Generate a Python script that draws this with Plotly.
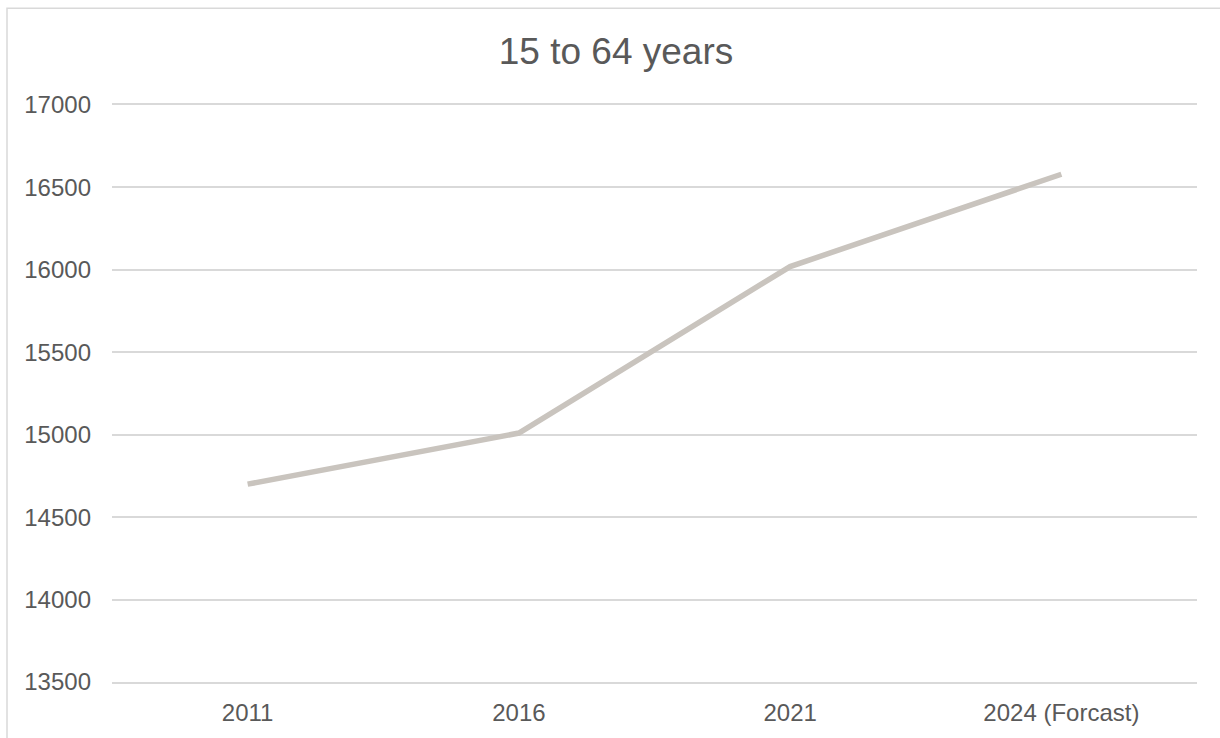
import plotly.graph_objects as go

categories = ["2011", "2016", "2021", "2024 (Forcast)"]
values = [14700, 15010, 16020, 16580]
y_ticks = [13500, 14000, 14500, 15000, 15500, 16000, 16500, 17000]
title_text = "15 to 64 years"

W, H = 1220, 738
L, R, T, B = 112, 23, 105, 54
pw, ph = W - L - R, H - T - B

fig = go.Figure()
fig.add_trace(go.Scatter(
    x=categories, y=values, mode="lines",
    line=dict(color="#C9C4BE", width=5.5),
    hoverinfo="skip", showlegend=False,
))

font_fam = "Liberation Sans, Arial, sans-serif"
fig.update_layout(
    width=W, height=H,
    margin=dict(l=L, r=R, t=T, b=B),
    paper_bgcolor="white", plot_bgcolor="white",
    title=dict(text=title_text, x=616 / W, xanchor="center",
               y=1 - 51 / H, yanchor="middle", yref="container",
               font=dict(family=font_fam, size=37, color="#595959")),
    xaxis=dict(type="category", range=[-0.5, 3.5], showgrid=False,
               zeroline=False, showline=True, mirror=True,
               linecolor="#D9D9D9", linewidth=1.5, ticks="",
               tickfont=dict(family=font_fam, size=24, color="#595959"),
               ticklabelstandoff=8),
    yaxis=dict(range=[13500, 17000], tickvals=y_ticks,
               ticktext=[str(v) for v in y_ticks],
               showgrid=True, gridcolor="#D9D9D9", gridwidth=1.5,
               zeroline=False, showline=False, ticks="",
               tickfont=dict(family=font_fam, size=24, color="#595959"),
               ticklabelstandoff=20),
    shapes=[dict(type="rect", xref="paper", yref="paper",
                 x0=(7 - L) / pw, x1=(W + 20 - L) / pw,
                 y0=-(H + 20 - (H - B)) / ph, y1=1 + (T - 8) / ph,
                 line=dict(color="#D9D9D9", width=1.5), layer="below")],
)

fig.write_html("out.html")
